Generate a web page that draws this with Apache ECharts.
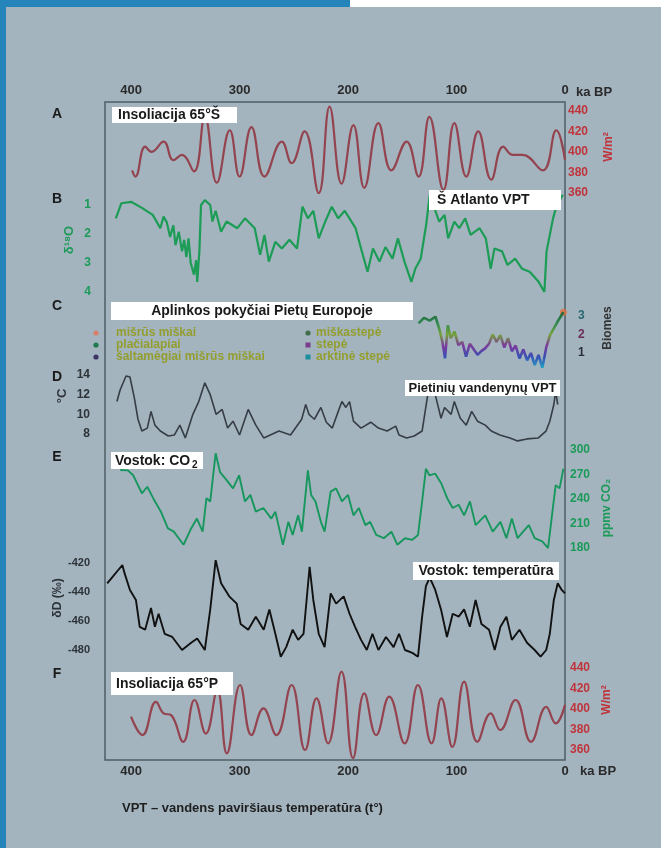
<!DOCTYPE html>
<html><head><meta charset="utf-8">
<script src="https://cdn.jsdelivr.net/npm/echarts@6/dist/echarts.min.js"></script>
<style>html,body{margin:0;padding:0;background:#a3b4bf}#c{width:661px;height:848px}</style>
</head><body><div id="c"></div><script>
// ---- tick labels ----
const xTicks = [0, 100, 200, 300, 400];
const insolTicks = [360, 380, 400, 420, 440];
const d18oTicks = [1, 2, 3, 4];
const biomeTicks = [1, 2, 3];
const sstTicks = [8, 10, 12, 14];
const co2Ticks = [180, 210, 240, 270, 300];
const dDTicks = [-480, -460, -440, -420];

// ---- A: insolation 65°S (W/m2) ----
const insolSKa  = [399, 396, 387, 381, 370, 361, 353, 342, 332, 321, 309, 300, 289, 277, 261, 252, 240, 227, 217, 206, 195, 185, 172, 160, 146, 135, 125, 112, 102, 91, 80, 68, 57, 48, 39, 20.5, 8, 0];
const insolSVal = [382, 376, 405, 400, 410, 392, 397, 381, 434, 370, 421, 376, 424, 376, 410, 389, 420, 360, 444, 369, 426, 365, 428, 382, 410, 376, 434, 363, 428, 376, 420, 373, 405, 397, 397, 382, 421, 392];

// ---- B: N Atlantic d18O ----
const d18oKa  = [414, 409, 400, 390, 380, 373, 370, 367, 364, 361, 359, 356, 353, 351, 349, 347, 345, 342, 340, 339, 337, 335.5, 332, 327, 325, 322, 317, 312, 302, 295, 286, 281, 277, 273, 267, 261, 254, 247, 242, 237, 232, 227, 221, 215, 209, 203, 193, 188, 182, 177, 171, 165.5, 159, 154, 148, 141.6, 138, 133, 128, 124.7, 121.4, 116, 111, 107.7, 102, 97.5, 92, 87, 78.7, 73, 68.5, 65, 58, 53, 46, 39.5, 32.6, 24.3, 19, 17, 14, 11, 7.6, 2];
const d18oVal = [1.46, 0.94, 0.89, 1.1, 1.34, 1.8, 1.4, 1.6, 2.1, 1.7, 2.38, 1.92, 2.6, 2.2, 2.8, 2.15, 3.0, 3.4, 2.9, 3.65, 2.6, 1.0, 0.83, 1.0, 1.57, 1.2, 1.92, 1.57, 1.8, 1.46, 1.8, 2.72, 2.03, 2.95, 2.27, 2.5, 2.2, 2.5, 1.06, 1.46, 1.2, 2.15, 1.57, 1.06, 1.46, 1.2, 1.8, 2.5, 3.3, 2.5, 2.95, 2.45, 2.85, 2.15, 2.95, 3.65, 3.2, 2.85, 1.69, 0.65, 1.0, 1.57, 1.34, 2.15, 1.57, 1.8, 1.46, 2.03, 1.8, 2.15, 3.2, 2.5, 2.6, 3.07, 2.85, 3.2, 3.3, 3.65, 4.0, 2.6, 2.03, 1.46, 1.0, 0.65];

// ---- C: biomes, southern Europe ----
const biomeKa  = [135, 130, 124.7, 119.4, 115.9, 113, 110.6, 108, 105.3, 101.8, 98.3, 94.7, 91.2, 87.7, 84.2, 80.6, 77.2, 73.6, 70.1, 66.6, 63.1, 59.6, 56, 52.5, 49, 45.5, 41.9, 38.4, 34.9, 31.4, 27.9, 24.4, 20.9, 17.3, 13.8, 10.3, 6.8, 1.5];
const biomeVal = [2.6, 2.9, 2.75, 2.96, 2.3, 1.6, 0.71, 2.5, 1.8, 2.15, 1.43, 1.6, 0.8, 1.5, 1.2, 0.9, 1.1, 1.25, 1.5, 2.0, 1.6, 1.97, 1.3, 1.8, 1.1, 1.4, 0.7, 1.2, 0.6, 1.0, 0.35, 0.9, 0.2, 1.3, 1.97, 2.33, 2.7, 3.2];

// ---- D: Southern Ocean SST (°C) ----
const sstKa  = [413, 410, 404.6, 401, 397, 393.6, 390, 385, 381.6, 378, 373, 365.7, 360, 355, 350, 343, 337.6, 332, 327, 321.6, 316, 311, 306, 300, 292, 285, 277.7, 263.6, 253, 242.7, 239, 236, 231, 225, 220, 214.5, 209, 205.6, 202, 198.6, 195, 188, 179, 172, 164, 156, 153, 146, 139, 131.7, 126.5, 123, 119.6, 114.3, 111, 105, 102, 96.5, 91, 86, 80.7, 73.5, 68, 60, 50.7, 43.7, 35, 24.6, 17.5, 14, 10.3, 8.6, 6.7];
const sstVal = [11.3, 12.5, 13.9, 13.8, 11.7, 9.5, 8.3, 8.6, 10.3, 8.9, 8.3, 7.8, 7.9, 8.9, 7.6, 10, 11.3, 13.2, 12, 10, 10.5, 8.6, 9.3, 7.9, 10.5, 8.9, 7.6, 8.3, 7.9, 9.5, 11.0, 10, 9.5, 10.7, 9.2, 8.6, 10.3, 11.3, 10.7, 11.3, 9.3, 8.6, 9.2, 8.6, 8.3, 8.8, 7.9, 7.6, 7.8, 8.3, 12, 13.2, 12, 9.6, 10.7, 10, 11.3, 9.6, 8.9, 10.3, 9.3, 8.9, 8.3, 7.9, 7.6, 7.3, 7.5, 7.6, 8.3, 9.3, 11, 12.3, 11];

// ---- E: Vostok CO2 (ppmv) ----
const co2Ka  = [410, 403, 398, 390, 385, 379.6, 372.5, 366, 360.6, 351.6, 344.6, 339.3, 334, 330.5, 327, 322, 318, 313, 306, 300.4, 295, 290, 285, 278, 270.7, 267, 260, 255, 251, 246, 242.5, 237, 234, 230, 225, 221.6, 216, 211, 205.6, 200, 195, 190, 184, 179.6, 174, 167, 160, 154.6, 147.5, 140.7, 135.5, 131.7, 128.2, 125, 119.6, 114, 108.6, 103.5, 98, 93, 87.6, 82.4, 73.5, 66.6, 59.5, 54, 49, 43.7, 38.6, 33.3, 28, 21, 15.6, 12, 8.6, 5, 1.5];
const co2Val = [275.5, 275, 269, 247, 255, 241, 224.5, 204, 200, 184, 204, 216, 200, 241, 237, 296, 273, 265, 253, 269, 237, 245, 224.5, 229, 216, 224.5, 184, 212, 196, 220, 200, 275, 245, 237, 212, 200, 249, 253, 237, 245, 220, 229, 208, 212, 196, 192, 200, 184, 192, 190, 196, 237, 277, 269, 271, 259, 241, 229, 233, 220, 237, 208, 220, 200, 212, 192, 216, 192, 200, 208, 192, 188, 180, 220, 257, 253, 277];

// ---- Vostok temperature (dD, ‰) ----
const dDKa  = [422, 417, 412, 408, 406, 401, 395.5, 392, 387, 381.6, 378, 374.6, 369, 362, 353, 344.6, 339, 332, 327, 322, 317, 309.5, 302.6, 299, 292, 285, 277.7, 272.5, 267, 262, 257, 251, 246, 241, 235.4, 232, 227, 221.6, 216, 211, 204, 198.6, 193.5, 188, 182.7, 177.5, 172, 165, 158, 153, 147.5, 140.7, 135.5, 131.7, 128.2, 124.7, 119.6, 114.3, 108.8, 103.5, 98, 93, 87.7, 82.4, 77, 70, 64.8, 59.5, 54, 49, 42, 35, 28, 22.5, 17.3, 14, 10.3, 6.7, 3, 0];
const dDVal = [-434, -429.5, -425, -421.4, -427, -438.6, -445.5, -464, -466, -451, -464, -455, -468.8, -471, -480, -475, -472, -480, -452, -418, -434, -443, -448, -462, -466, -457, -466, -452, -468.8, -484.6, -478, -466, -473, -468.8, -422.6, -445.5, -468.8, -478, -441, -448, -443, -455, -464, -473, -480, -468.8, -480, -471, -478, -468.8, -480, -482, -484.6, -457, -436, -430, -438.6, -452, -471, -455, -457, -452, -464, -445.5, -462, -466, -480, -464, -457, -473, -466, -475, -480, -484.6, -480, -468.8, -445.5, -434, -438.6, -441];

// ---- F: insolation 65°N (W/m2) ----
const insolNKa  = [400, 389.5, 377, 370, 363, 352, 341.5, 331, 320.5, 311.7, 299.5, 289, 278, 266, 252, 239.6, 229, 218.4, 206, 195.4, 185, 174, 162, 147.8, 135.5, 123, 114, 103.8, 93, 80.8, 68.5, 59.8, 45.6, 31.3, 17.3, 8.6, 0];
const insolNVal = [392.5, 374.6, 407, 395.8, 394, 368, 408.8, 376, 418.5, 356.7, 423.4, 374.6, 400.7, 374.6, 423.4, 360, 410.4, 366.5, 436.4, 352, 415.3, 374.6, 412, 366.5, 423.4, 366.5, 410.4, 363, 426.7, 368, 395.8, 379.5, 408.8, 368, 402, 386, 404];

const pairs = (k, v) => k.map((x, i) => [x, v[i]]);

const FONT = 'Liberation Sans, Arial, sans-serif';
const L = 105, R = 96, XMAX = 424;
const RED = '#c0343c', GREEN = '#1b9a58', DARK = '#2d3338';

function grid(top, height, extra) {
  return Object.assign({ left: L, right: R, top: top, height: height, containLabel: false, outerBoundsMode: 'none' }, extra || {});
}
const grids = [
  grid(102, 658, { show: true, borderColor: '#4f5d66', borderWidth: 1.5, backgroundColor: 'transparent' }),
  grid(110.7, 82.3), // A
  grid(205, 87),     // B
  grid(316, 37),     // C
  grid(375, 59),     // D
  grid(450, 98),     // E
  grid(563, 87),     // Vostok dD
  grid(668, 82)      // F
];

function hiddenX(gi) {
  return { gridIndex: gi, type: 'value', min: 0, max: XMAX, inverse: true, show: false };
}
const tickLabel = { margin: 5, fontFamily: FONT, fontWeight: 'bold', fontSize: 13, color: '#2a2a2a',
  showMaxLabel: false, formatter: v => xTicks.includes(v) ? String(v) : '' };
const xAxes = [
  { gridIndex: 0, type: 'value', position: 'top', min: 0, max: XMAX, inverse: true, interval: 100,
    axisLine: { show: false }, axisTick: { show: false }, splitLine: { show: false }, axisLabel: tickLabel },
  { gridIndex: 0, type: 'value', position: 'bottom', min: 0, max: XMAX, inverse: true, interval: 100,
    axisLine: { show: false }, axisTick: { show: false }, splitLine: { show: false }, axisLabel: tickLabel },
  hiddenX(1), hiddenX(2), hiddenX(3), hiddenX(4), hiddenX(5), hiddenX(6), hiddenX(7)
];

function yax(gi, ticks, pos, color, margin, size, extra) {
  return Object.assign({
    gridIndex: gi, type: 'value', position: pos,
    min: ticks[0], max: ticks[ticks.length - 1], interval: ticks[1] - ticks[0],
    axisLine: { show: false }, axisTick: { show: false }, splitLine: { show: false },
    axisLabel: { margin: margin, color: color, fontFamily: FONT, fontWeight: 'bold', fontSize: size }
  }, extra || {});
}
const biomeColors = { 1: '#2a2d3e', 2: '#6a2c57', 3: '#2a6670' };
const yAxes = [
  { gridIndex: 0, type: 'value', show: false },
  yax(1, insolTicks, 'right', RED, 3, 12),
  yax(2, d18oTicks, 'left', GREEN, 14, 12, { inverse: true }),
  yax(3, biomeTicks, 'right', '#333', 13, 12),
  yax(4, sstTicks, 'left', DARK, 15, 12),
  yax(5, co2Ticks, 'right', GREEN, 5, 12),
  yax(6, dDTicks, 'left', DARK, 15, 11),
  yax(7, insolTicks, 'right', RED, 5, 12)
];
yAxes[3].axisLabel.color = v => biomeColors[v] || '#333';

function lineSeries(gi, data, color, width, smooth) {
  const s = { type: 'line', xAxisIndex: gi + 1, yAxisIndex: gi, data: data, showSymbol: false, symbol: 'none',
    smooth: smooth || false, clip: false, lineStyle: { width: width }, silent: true, animation: false };
  if (color) { s.lineStyle.color = color; s.itemStyle = { color: color }; }
  return s;
}

const series = [
  lineSeries(1, pairs(insolSKa, insolSVal), '#93444f', 2.2, 0.45),
  lineSeries(2, pairs(d18oKa, d18oVal), '#1c9c55', 2.2),
  lineSeries(3, pairs(biomeKa, biomeVal), null, 2.6),
  { type: 'scatter', xAxisIndex: 4, yAxisIndex: 3, clip: false, symbolSize: 7,
    data: [[biomeKa[biomeKa.length - 1], biomeVal[biomeVal.length - 1]]], itemStyle: { color: '#e2703c' }, animation: false },
  lineSeries(4, pairs(sstKa, sstVal), '#363d45', 1.6),
  lineSeries(5, pairs(co2Ka, co2Val), '#17975d', 1.9),
  lineSeries(6, pairs(dDKa, dDVal), '#111111', 1.9),
  lineSeries(7, pairs(insolNKa, insolNVal), '#93444f', 2.2, 0.45)
];

// ---- decorations / labels ----
function txt(x, y, text, opt) {
  opt = opt || {};
  return { type: 'text', x: x, y: y, rotation: opt.rot || 0, z: 60,
    style: { text: text, fill: opt.fill || '#1a1a1a', font: opt.font || ('bold 14px ' + FONT),
      align: opt.align || 'left', textAlign: opt.align || 'left',
      verticalAlign: 'middle', textVerticalAlign: 'middle' } };
}
function box(x, y, w, h) {
  return { type: 'rect', z: 55, shape: { x: x, y: y, width: w, height: h }, style: { fill: '#ffffff' } };
}
function dot(x, y, color, sq) {
  return sq ? { type: 'rect', z: 60, shape: { x: x - 2.5, y: y - 2.5, width: 5, height: 5 }, style: { fill: color } }
            : { type: 'circle', z: 60, shape: { cx: x, cy: y, r: 2.6 }, style: { fill: color } };
}
const LEG = { fill: '#939e2e', font: 'bold 12px ' + FONT };
const graphics = [
  { type: 'rect', z: 1, shape: { x: 0, y: 0, width: 350, height: 7 }, style: { fill: '#2585bb' } },
  { type: 'rect', z: 1, shape: { x: 350, y: 0, width: 311, height: 7 }, style: { fill: '#ffffff' } },
  { type: 'rect', z: 1, shape: { x: 0, y: 0, width: 6, height: 848 }, style: { fill: '#2585bb' } },
  // panel letters
  txt(57, 114, 'A', { align: 'center' }), txt(57, 199, 'B', { align: 'center' }),
  txt(57, 306, 'C', { align: 'center' }), txt(57, 377, 'D', { align: 'center' }),
  txt(57, 457, 'E', { align: 'center' }), txt(57, 674, 'F', { align: 'center' }),
  // ka BP
  txt(576, 92, 'ka BP', { font: 'bold 13px ' + FONT, fill: '#2a2a2a' }),
  txt(580, 771, 'ka BP', { font: 'bold 13px ' + FONT, fill: '#2a2a2a' }),
  // label boxes
  box(112, 107, 125, 16), txt(118, 115.5, 'Insoliacija 65°Š'),
  box(429, 190, 132, 20), txt(437, 200.5, 'Š Atlanto VPT'),
  box(111, 302, 302, 18), txt(262, 311.5, 'Aplinkos pokyčiai Pietų Europoje', { align: 'center' }),
  box(405, 380, 155, 16), txt(482.5, 388.5, 'Pietinių vandenynų VPT', { align: 'center', font: 'bold 13px ' + FONT }),
  box(111, 452, 92, 17), txt(115, 461, 'Vostok: CO', { font: 'bold 14px ' + FONT }),
  txt(192, 465, '2', { font: 'bold 10px ' + FONT }),
  box(413, 562, 146, 18), txt(486, 571.5, 'Vostok: temperatūra', { align: 'center', font: 'bold 14px ' + FONT }),
  box(111, 672, 122, 23), txt(116, 684, 'Insoliacija 65°P'),
  // legend
  dot(96, 333, '#d57f6c'), txt(116, 333, 'mišrūs miškai', LEG),
  dot(96, 345, '#1b7a4f'), txt(116, 345, 'plačialapiai', LEG),
  dot(96, 357, '#3a3566'), txt(116, 357, 'šaltamėgiai mišrūs miškai', LEG),
  dot(308, 333, '#3f6f4c'), txt(316, 333, 'miškastepė', LEG),
  dot(308, 345, '#7b3c8c', true), txt(316, 345, 'stepė', LEG),
  dot(308, 357, '#1d8e9e', true), txt(316, 357, 'arktinė stepė', LEG),
  // axis names (rotated)
  txt(609, 147, 'W/m²', { rot: Math.PI / 2, align: 'center', fill: RED, font: 'bold 12px ' + FONT }),
  txt(69, 240, 'δ¹⁸O', { rot: Math.PI / 2, align: 'center', fill: GREEN, font: 'bold 13px ' + FONT }),
  txt(608, 328, 'Biomes', { rot: Math.PI / 2, align: 'center', fill: '#333', font: 'bold 12px ' + FONT }),
  txt(62, 396, '°C', { rot: Math.PI / 2, align: 'center', fill: DARK, font: 'bold 13px ' + FONT }),
  txt(607, 508, 'ppmv CO₂', { rot: Math.PI / 2, align: 'center', fill: GREEN, font: 'bold 12px ' + FONT }),
  txt(58, 598, 'δD (‰)', { rot: Math.PI / 2, align: 'center', fill: DARK, font: 'bold 12px ' + FONT }),
  txt(607, 700, 'W/m²', { rot: Math.PI / 2, align: 'center', fill: RED, font: 'bold 12px ' + FONT }),
  // caption
  txt(122, 808, 'VPT – vandens paviršiaus temperatūra (t°)', { font: 'bold 13px ' + FONT, fill: '#1e1e1e' })
];

const chart = echarts.init(document.getElementById('c'), null, { renderer: 'canvas' });
chart.setOption({
  backgroundColor: '#a3b4bf',
  animation: false,
  textStyle: { fontFamily: FONT },
  grid: grids,
  xAxis: xAxes,
  yAxis: yAxes,
  visualMap: [{
    type: 'continuous', show: false, seriesIndex: 2, dimension: 1, min: 0.2, max: 3.2,
    inRange: { color: ['#22a3c4', '#3a4fb3', '#7d3a9c', '#74a23a', '#2f8a4f', '#22663b'] }
  }],
  series: series,
  graphic: graphics
});
</script></body></html>
